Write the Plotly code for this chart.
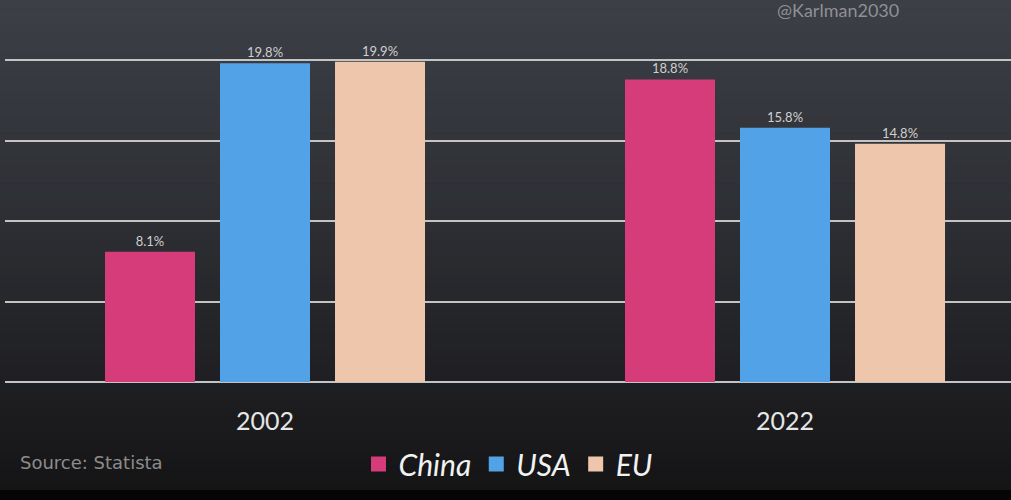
import plotly.graph_objects as go

years = ["2002", "2022"]
series_names = ["China", "USA", "EU"]
china = [8.1, 18.8]
usa = [19.8, 15.8]
eu = [19.9, 14.8]
colors = ["#d63b7a", "#52a2e8", "#edc6ab"]

values = [china, usa, eu]
xpos = list(range(len(years)))

fig = go.Figure()
for name, vals, col in zip(series_names, values, colors):
    fig.add_trace(go.Bar(
        x=xpos, y=vals, name=name, showlegend=False,
        marker=dict(color=col, line=dict(width=0)),
        text=[f"{v}%" for v in vals], textposition="outside",
        textfont=dict(color="#cfcfcf", size=13, family="Lato"),
        cliponaxis=False,
    ))
# legend entries with square markers
for name, col in zip(series_names, colors):
    fig.add_trace(go.Scatter(
        x=[None], y=[None], mode="markers", name=name,
        marker=dict(symbol="square", size=15, color=col),
    ))

# background gradient via stacked rectangles
shapes = []
n = 60
def lerp(a, b, t):
    return tuple(int(round(a[i] + (b[i] - a[i]) * t)) for i in range(3))
stops = [(0.0, (60, 63, 70)), (0.45, (44, 46, 51)), (0.8, (29, 29, 32)), (0.98, (20, 20, 21)), (1.0, (8, 8, 8))]
H = 500
T = 44
PH = 338
def py(pix):
    return 1 + T / PH - pix / PH
for i in range(n):
    t = i / n
    for j in range(len(stops) - 1):
        if stops[j][0] <= t <= stops[j + 1][0]:
            tt = (t - stops[j][0]) / (stops[j + 1][0] - stops[j][0])
            c = lerp(stops[j][1], stops[j + 1][1], tt)
            break
    y0 = i * H / n
    y1 = (i + 1) * H / n + 0.5
    shapes.append(dict(type="rect", xref="paper", yref="paper", layer="below",
                       x0=-0.01, x1=1.01, y0=py(y1), y1=py(y0),
                       fillcolor="rgb(%d,%d,%d)" % c, line=dict(width=0)))
shapes.append(dict(type="rect", xref="paper", yref="paper", layer="below",
                   x0=-0.01, x1=1.01, y0=py(500), y1=py(490),
                   fillcolor="#050505", line=dict(width=0)))

fig.update_layout(
    width=1011, height=500,
    margin=dict(l=5, r=0, t=T, b=500 - T - PH),
    paper_bgcolor="#2a2b30", plot_bgcolor="rgba(0,0,0,0)",
    barmode="group", bargap=0.3365, bargroupgap=0.2174,
    shapes=shapes,
    showlegend=True,
    legend=dict(orientation="h", x=0.5, xanchor="center", y=py(438), yanchor="top",
                font=dict(color="#f2f2f2", size=30, family="Lato", style="italic"),
                bgcolor="rgba(0,0,0,0)", traceorder="normal"),
    xaxis=dict(range=[-0.5, 1.4346], tickvals=xpos, ticktext=years,
               tickfont=dict(color="#e6e6e6", size=25, family="Lato"),
               showgrid=False, zeroline=False, showline=False, ticks="", ticklen=0),
    yaxis=dict(range=[0, 21], tickvals=[0, 5, 10, 15, 20], showticklabels=False,
               gridcolor="#c4c4c4", gridwidth=1.5,
               zeroline=True, zerolinecolor="#c4c4c4", zerolinewidth=1.5, showline=False),
    annotations=[
        dict(text="Source: Statista", xref="paper", yref="paper", x=(18 - 5) / 1006, y=py(462),
             xanchor="left", yanchor="middle", showarrow=False,
             font=dict(color="#8c8c8c", size=18, family="DejaVu Sans")),
        dict(text="@Karlman2030", xref="paper", yref="paper", x=(838 - 5) / 1006, y=py(10),
             xanchor="center", yanchor="middle", showarrow=False,
             font=dict(color="#8f9095", size=18, family="Lato")),
    ],
)
fig.update_xaxes(ticklabelstandoff=22)

fig.write_html("out.html")
